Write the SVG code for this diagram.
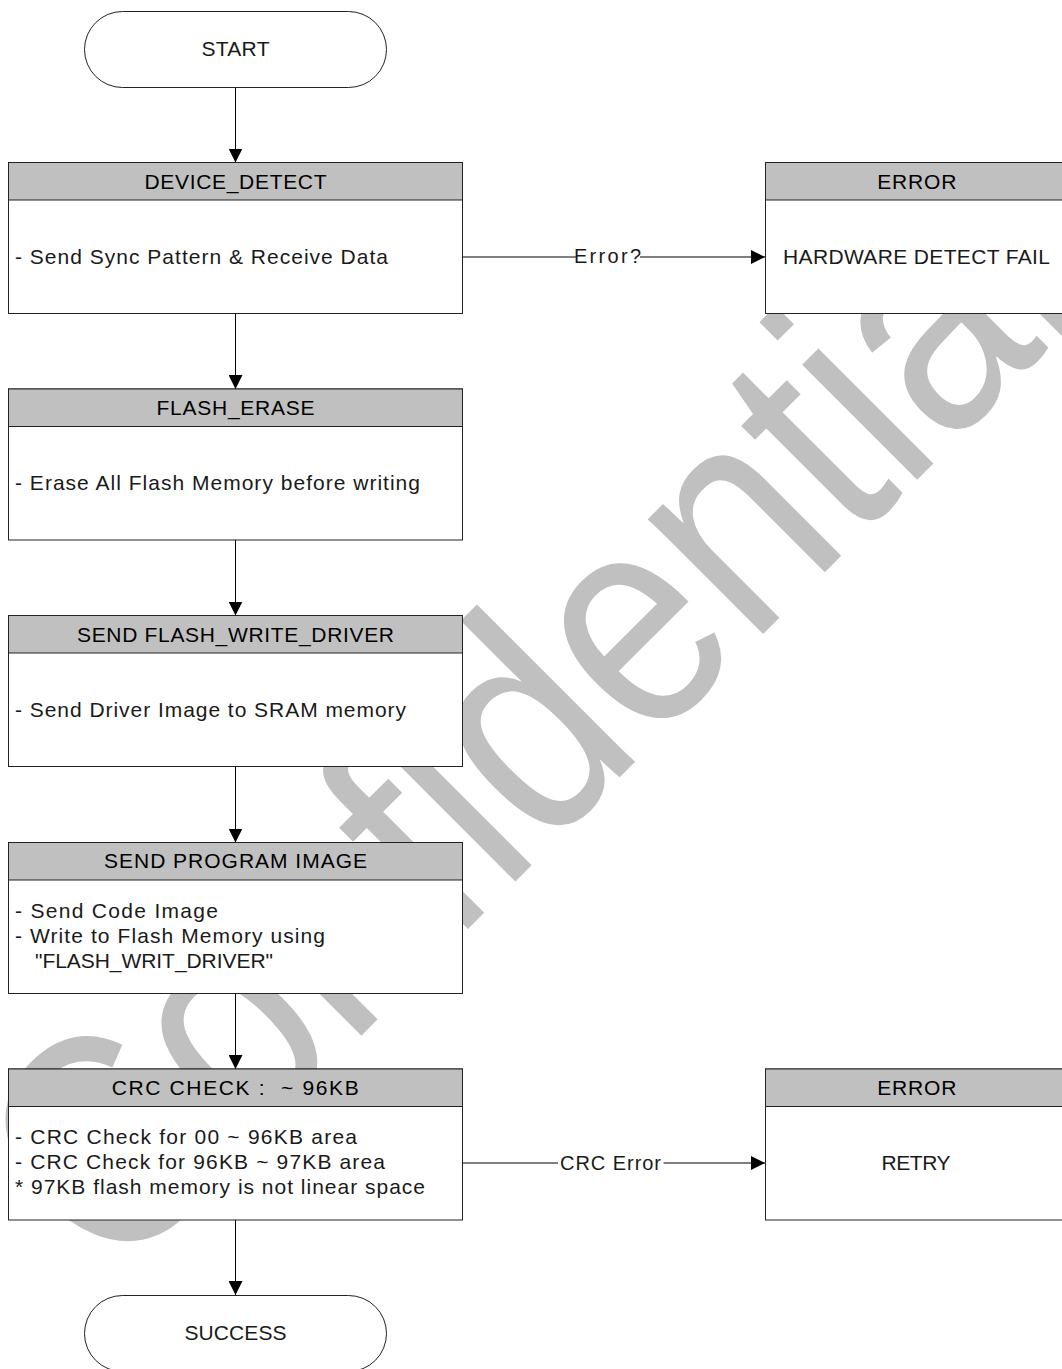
<svg xmlns="http://www.w3.org/2000/svg" width="1062" height="1369" viewBox="0 0 1062 1369">
<defs>
<style>
text{font-family:"Liberation Sans","Noto Sans CJK KR",Arial,sans-serif;}
.hd{font-size:21px;fill:#000;text-anchor:middle;}
.bd{font-size:21px;fill:#1a1a1a;}
.ct{font-size:21px;fill:#1a1a1a;text-anchor:middle;}
.lb{font-size:20px;fill:#1a1a1a;text-anchor:middle;}
.box{fill:#fff;stroke:#222;stroke-width:1;}
.hdr{fill:#c0c0c0;stroke:#222;stroke-width:1;}
.pill{fill:#fff;stroke:#222;stroke-width:1;}
.cn{fill:none;stroke:#000;stroke-width:1;}
.wm{font-size:262px;fill:#c0c0c0;font-variant-ligatures:none;}
</style>
<marker id="arr" markerUnits="userSpaceOnUse" markerWidth="15" markerHeight="14" refX="14" refY="7" orient="auto">
<path d="M0,0 L14,7 L0,14 Z" fill="#000"/>
</marker>
</defs>
<rect x="0" y="0" width="1062" height="1369" fill="#fff"/>
<g id="watermark">
<text class="wm" x="0" y="0" transform="translate(111.7 1285.3) rotate(-45) scale(1 1.175)">Confidential</text>
</g>
<g id="connectors">
<path class="cn" d="M235.5,87.5 V162.5" marker-end="url(#arr)"/>
<path class="cn" d="M235.5,313.5 V389" marker-end="url(#arr)"/>
<path class="cn" d="M235.5,540 V615.5" marker-end="url(#arr)"/>
<path class="cn" d="M235.5,766.5 V842.5" marker-end="url(#arr)"/>
<path class="cn" d="M235.5,993.5 V1069" marker-end="url(#arr)"/>
<path class="cn" d="M235.5,1220 V1295" marker-end="url(#arr)"/>
<path class="cn" d="M462.5,257 H577"/>
<path class="cn" d="M640,257 H765" marker-end="url(#arr)"/>
<text class="lb" x="607.5" y="263" textLength="67">Error?</text>
<path class="cn" d="M462.5,1163 H558"/>
<path class="cn" d="M663.5,1163 H765" marker-end="url(#arr)"/>
<text class="lb" x="610.5" y="1170" textLength="101">CRC Error</text>
</g>
<g id="start">
<rect class="pill" x="84.5" y="11.5" width="302" height="76" rx="38" ry="38"/>
<text class="ct" x="235.5" y="56" textLength="68">START</text>
</g>
<g id="device_detect">
<rect class="box" x="8.5" y="162.5" width="454" height="151"/>
<rect class="hdr" x="8.5" y="162.5" width="454" height="37.5"/>
<text class="hd" x="235.5" y="188.5" textLength="182">DEVICE_DETECT</text>
<text class="bd" x="15" y="263.5" textLength="373">- Send Sync Pattern &amp; Receive Data</text>
</g>
<g id="error1">
<rect class="box" x="765.5" y="162.5" width="302" height="151"/>
<rect class="hdr" x="765.5" y="162.5" width="302" height="37.5"/>
<text class="hd" x="916.8" y="188.5" textLength="79">ERROR</text>
<text class="ct" x="916.5" y="263.5" textLength="267">HARDWARE DETECT FAIL</text>
</g>
<g id="flash_erase">
<rect class="box" x="8.5" y="389" width="454" height="151"/>
<rect class="hdr" x="8.5" y="389" width="454" height="37.5"/>
<text class="hd" x="235.5" y="415" textLength="158">FLASH_ERASE</text>
<text class="bd" x="15" y="490" textLength="405">- Erase All Flash Memory before writing</text>
</g>
<g id="send_flash_write_driver">
<rect class="box" x="8.5" y="615.5" width="454" height="151"/>
<rect class="hdr" x="8.5" y="615.5" width="454" height="37.5"/>
<text class="hd" x="235.5" y="641.7" textLength="317">SEND FLASH_WRITE_DRIVER</text>
<text class="bd" x="15" y="716.7" textLength="391">- Send Driver Image to SRAM memory</text>
</g>
<g id="send_program_image">
<rect class="box" x="8.5" y="842.5" width="454" height="151"/>
<rect class="hdr" x="8.5" y="842.5" width="454" height="37.5"/>
<text class="hd" x="235.5" y="867.5" textLength="263">SEND PROGRAM IMAGE</text>
<text class="bd" x="15" y="918.3" textLength="203">- Send Code Image</text>
<text class="bd" x="15" y="943.3" textLength="310">- Write to Flash Memory using</text>
<text class="bd" x="35" y="968.3" textLength="238">"FLASH_WRIT_DRIVER"</text>
</g>
<g id="crc_check">
<rect class="box" x="8.5" y="1069" width="454" height="151"/>
<rect class="hdr" x="8.5" y="1069" width="454" height="37.5"/>
<text class="hd" x="235.2" y="1095" textLength="247">CRC CHECK :&#160; ~ 96KB</text>
<text class="bd" x="15" y="1143.5" textLength="342">- CRC Check for 00 ~ 96KB area</text>
<text class="bd" x="15" y="1169.3" textLength="370">- CRC Check for 96KB ~ 97KB area</text>
<text class="bd" x="15" y="1194.3" textLength="410">* 97KB flash memory is not linear space</text>
</g>
<g id="error2">
<rect class="box" x="765.5" y="1069" width="302" height="151"/>
<rect class="hdr" x="765.5" y="1069" width="302" height="37.5"/>
<text class="hd" x="916.8" y="1095" textLength="79">ERROR</text>
<text class="ct" x="916" y="1170" textLength="69">RETRY</text>
</g>
<g id="success">
<rect class="pill" x="84.5" y="1295.5" width="302" height="76" rx="38" ry="38"/>
<text class="ct" x="235.5" y="1339.5" textLength="102">SUCCESS</text>
</g>
</svg>
